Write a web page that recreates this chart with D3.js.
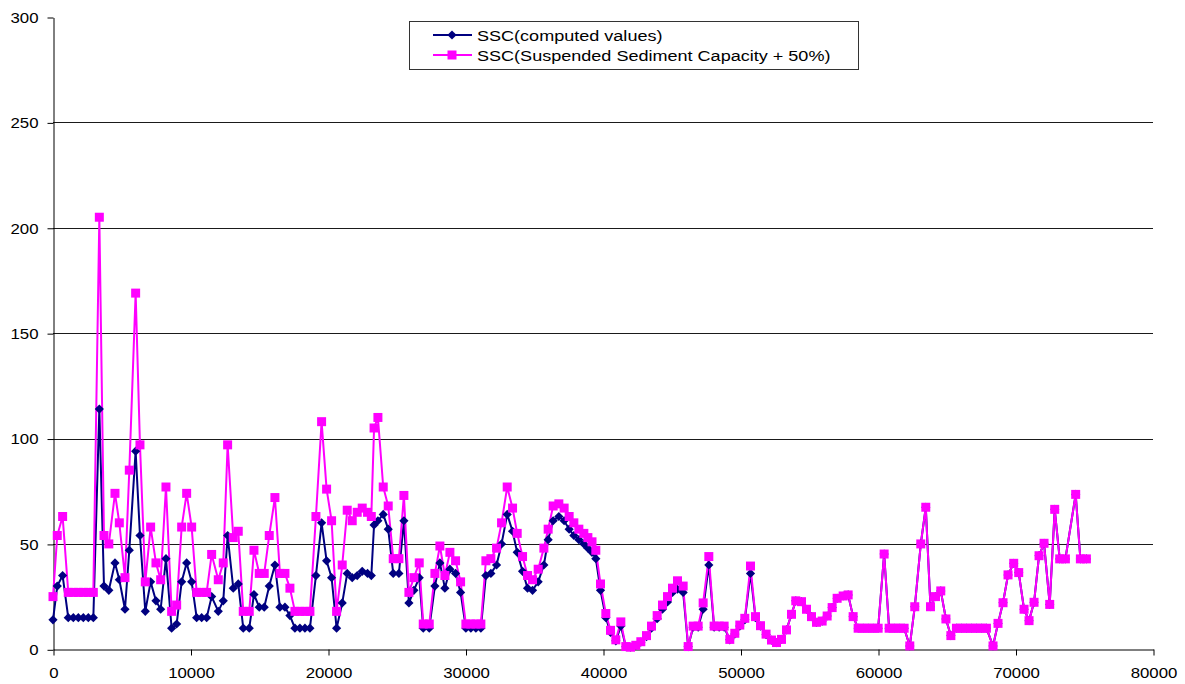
<!DOCTYPE html>
<html>
<head>
<meta charset="utf-8">
<script src="https://cdn.jsdelivr.net/npm/d3@7"></script>
<style>
  html, body { margin: 0; padding: 0; background: #fff; }
  svg { display: block; }
  text { font-family: "Liberation Sans", Arial, sans-serif; fill: #000; }
</style>
</head>
<body>
<script>
// Chainage along the reach (m)
const distance = [
  0, 310, 700, 1110, 1478, 1842, 2205, 2569, 2933, 3370,
  3708, 4060, 4508, 4823, 5235, 5550, 6010, 6325, 6713, 7100,
  7488, 7830, 8216, 8628, 8993, 9357, 9720, 10084, 10448, 10811,
  11175, 11538, 12020, 12383, 12700, 13110, 13473, 13837, 14273, 14615,
  15000, 15363, 15727, 16140, 16504, 16868, 17231, 17595, 17958, 18322,
  18685, 19122, 19534, 19898, 20261, 20625, 21035, 21398, 21762, 22125,
  22489, 22876, 23150, 23350, 23630, 24017, 24380, 24744, 25157, 25520,
  25884, 26248, 26636, 26927, 27364, 27774, 28138, 28501, 28865, 29279,
  29643, 30028, 30391, 30755, 31118, 31482, 31845, 32258, 32622, 33033,
  33422, 33760, 34149, 34513, 34876, 35285, 35700, 36011, 36375, 36789,
  37174, 37538, 37880, 38244, 38607, 38900, 39200, 39478, 39820, 40206,
  40547, 40933, 41297, 41660, 42002, 42387, 42751, 43164, 43528, 43939,
  44327, 44691, 45054, 45418, 45830, 46193, 46557, 46920, 47284, 47696,
  48082, 48446, 48809, 49222, 49586, 49949, 50313, 50727, 51090, 51454,
  51860, 52254, 52617, 52981, 53345, 53708, 54021, 54436, 54799, 55163,
  55526, 55938, 56302, 56665, 57029, 57465, 57829, 58192, 58556, 58919,
  59283, 59646, 60010, 60446, 60809, 61172, 61536, 61900, 62312, 62675,
  63112, 63475, 63816, 64180, 64565, 64940, 65300, 65705, 66068, 66432,
  66796, 67159, 67523, 67886, 68365, 68729, 69093, 69456, 69870, 70234,
  70622, 70985, 71349, 71713, 72076, 72488, 72852, 73215, 73629, 74377,
  74719, 75156
];

// SSC, computed values
const sscComputed = [
  14, 30, 35, 15, 15, 15, 15, 15, 15, 114,
  30, 28, 41, 33, 19, 47, 94, 54, 18, 32,
  23, 19, 43, 10, 12, 32, 41, 32, 15, 15,
  15, 25, 18, 23, 54, 29, 31, 10, 10, 26,
  20, 20, 30, 40, 20, 20, 16, 10, 10, 10,
  10, 35, 60, 42, 34, 10, 22, 36, 34, 35,
  37, 36, 35, 59, 61, 64, 57, 36, 36, 61,
  22, 28, 34, 10, 10, 30, 41, 29, 38, 36,
  27, 10, 10, 10, 10, 35, 36, 40, 50, 64,
  56, 46, 37, 29, 28, 32, 40, 52, 61, 63,
  61, 57, 54, 52, 50, 48, 46, 43, 28, 15,
  8, 4, 11, 1.2, 1, 1.8, 3.4, 6, 10, 14.5,
  19, 22.5, 27, 28.5, 27, 1.3, 10.5, 10.5, 19, 40,
  10.5, 10.5, 10.5, 4.5, 7.2, 11, 14, 36, 15, 11,
  7, 4.4, 3.2, 4.7, 9.2, 16.6, 23, 22.6, 19, 15.5,
  12.8, 13.4, 15.8, 19.8, 24.2, 25.3, 25.8, 15.5, 10, 10,
  10, 10, 10, 45.2, 10, 10, 10, 10, 1.6, 20.2,
  50, 67.4, 20.2, 25, 27.7, 14.4, 6.5, 10, 10, 10,
  10, 10, 10, 10, 1.6, 12.3, 22.1, 35.3, 40.8, 36.4,
  19, 13.6, 22.3, 44.4, 50.3, 21.3, 66.4, 42.9, 42.9, 73.5,
  42.9, 42.9
];

// SSC, suspended sediment capacity + 50%
const sscCapacity = [
  25, 54, 63, 27, 27, 27, 27, 27, 27, 205,
  54, 50, 74, 60, 34, 85, 169, 97, 32, 58,
  41, 33, 77, 18, 21, 58, 74, 58, 27, 27,
  27, 45, 33, 41, 97, 53, 56, 18, 18, 47,
  36, 36, 54, 72, 36, 36, 29, 18, 18, 18,
  18, 63, 108, 76, 61, 18, 40, 66, 61, 65,
  67, 65, 63, 105, 110, 77, 68, 43, 43, 73,
  27, 34, 41, 12, 12, 36, 49, 35, 46, 42,
  32, 12, 12, 12, 12, 42, 43, 48, 60, 77,
  67, 55, 44, 35, 33, 38, 48, 57, 68, 69,
  67, 63, 60, 57, 55, 53, 51, 47, 31, 17,
  9, 4.5, 13, 1.3, 1, 1.9, 3.6, 6.5, 11, 16,
  21, 25, 29, 32.5, 30, 1.3, 11, 11, 22, 44,
  11, 11, 11, 4.7, 7.6, 11.5, 14.7, 39.5, 15.5, 11.2,
  7.2, 4.4, 3.2, 4.7, 9.2, 16.6, 23, 22.6, 19, 15.5,
  12.8, 13.4, 15.8, 19.8, 24.2, 25.3, 25.8, 15.5, 10, 10,
  10, 10, 10, 45.2, 10, 10, 10, 10, 1.6, 20.2,
  50, 67.4, 20.2, 25, 27.7, 14.4, 6.5, 10, 10, 10,
  10, 10, 10, 10, 1.6, 12.3, 22.1, 35.3, 40.8, 36.4,
  19, 13.6, 22.3, 44.4, 50.3, 21.3, 66.4, 42.9, 42.9, 73.5,
  42.9, 42.9
];

const xTicks = [0, 10000, 20000, 30000, 40000, 50000, 60000, 70000, 80000];
const yTicks = [0, 50, 100, 150, 200, 250, 300];
const seriesNames = ["SSC(computed values)", "SSC(Suspended Sediment Capacity + 50%)"];

const W = 1185, H = 684;
const NAVY = "#000080", MAGENTA = "#FF00FF";

const svg = d3.select("body").append("svg").attr("width", W).attr("height", H);

const x = d3.scaleLinear().domain([0, 80000]).range([53, 1153]);
const y = d3.scaleLinear().domain([0, 300]).range([649.3, 17]);

// horizontal gridlines
svg.append("g")
  .selectAll("line")
  .data(yTicks.filter(t => t > 0 && t < 300))
  .join("line")
  .attr("x1", x(0)).attr("x2", x(80000))
  .attr("y1", d => Math.round(y(d)) + 0.5)
  .attr("y2", d => Math.round(y(d)) + 0.5)
  .attr("stroke", "#1a1a1a").attr("stroke-width", 1);

// axes
const axisFont = 15, axisStretch = 1.12;

const yAxis = svg.append("g")
  .attr("transform", `translate(${Math.round(x(0)) + 0.5},0.5)`)
  .call(d3.axisLeft(y).tickValues(yTicks).tickFormat(d3.format("d")).tickSize(6).tickSizeOuter(0).tickPadding(9));
yAxis.select(".domain").attr("stroke", "#000");
yAxis.selectAll(".tick line").attr("stroke", "#000");
yAxis.selectAll(".tick text")
  .attr("font-size", axisFont).attr("font-family", null)
  .attr("transform", `scale(${axisStretch},1)`)
  .attr("x", -15 / axisStretch);

const xAxis = svg.append("g")
  .attr("transform", `translate(0.5,${Math.round(y(0)) + 0.5})`)
  .call(d3.axisBottom(x).tickValues(xTicks).tickFormat(d3.format("d")).tickSize(6).tickSizeOuter(0).tickPadding(12));
xAxis.select(".domain").attr("stroke", "#000");
xAxis.selectAll(".tick line").attr("stroke", "#000");
xAxis.selectAll(".tick text")
  .attr("font-size", axisFont).attr("font-family", null)
  .attr("transform", `scale(${axisStretch},1)`);

// series
const computed = distance.map((d, i) => ({ d, v: sscComputed[i] }));
const capacity = distance.map((d, i) => ({ d, v: sscCapacity[i] }));

const line = d3.line().x(p => x(p.d)).y(p => y(p.v));

svg.append("path").datum(computed)
  .attr("d", line).attr("fill", "none")
  .attr("stroke", NAVY).attr("stroke-width", 2).attr("stroke-linejoin", "round");

svg.append("path").datum(capacity)
  .attr("d", line).attr("fill", "none")
  .attr("stroke", MAGENTA).attr("stroke-width", 2).attr("stroke-linejoin", "round");

const diamond = r => `M0,${-r}L${r},0L0,${r}L${-r},0Z`;
const square = s => `M${-s / 2},${-s / 2}h${s}v${s}h${-s}Z`;

svg.append("g").selectAll("path")
  .data(computed).join("path")
  .attr("transform", p => `translate(${x(p.d)},${y(p.v)})`)
  .attr("d", diamond(4.6))
  .attr("fill", NAVY);

svg.append("g").selectAll("path")
  .data(capacity).join("path")
  .attr("transform", p => `translate(${x(p.d)},${y(p.v)})`)
  .attr("d", square(9))
  .attr("fill", MAGENTA);

// legend
const legend = svg.append("g");
legend.append("rect")
  .attr("x", 409.5).attr("y", 21.5).attr("width", 449).attr("height", 48)
  .attr("fill", "#fff").attr("stroke", "#333").attr("stroke-width", 1);

const legendRows = [
  { name: seriesNames[0], color: NAVY, marker: diamond(4.6), y: 35 },
  { name: seriesNames[1], color: MAGENTA, marker: square(9), y: 55 }
];
const legendStretch = 1.18;
legendRows.forEach(r => {
  legend.append("line")
    .attr("x1", 433).attr("x2", 472).attr("y1", r.y).attr("y2", r.y)
    .attr("stroke", r.color).attr("stroke-width", 2);
  legend.append("path")
    .attr("transform", `translate(452,${r.y})`)
    .attr("d", r.marker).attr("fill", r.color);
  legend.append("text")
    .attr("transform", `translate(477,${r.y}) scale(${legendStretch},1)`)
    .attr("dy", "0.36em")
    .attr("font-size", 15.3)
    .text(r.name);
});
</script>
</body>
</html>
